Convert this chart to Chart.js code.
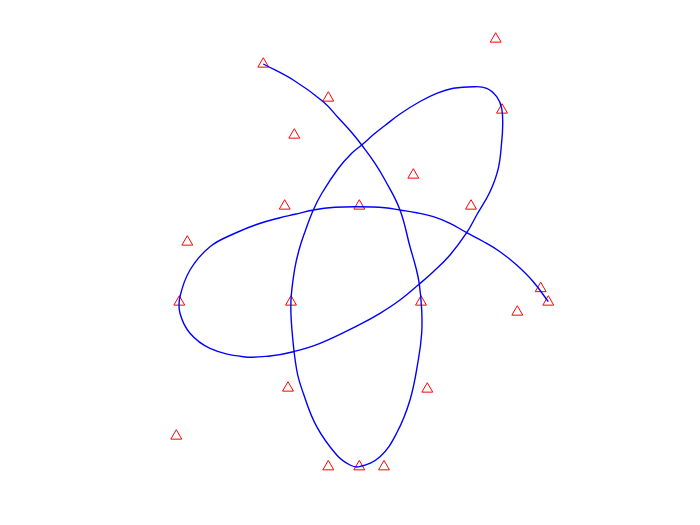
<!DOCTYPE html>
<html>
<head>
<meta charset="utf-8">
<script src="https://cdn.jsdelivr.net/npm/chart.js@4/dist/chart.umd.min.js"></script>
<style>
html,body{margin:0;padding:0;background:#fff;}
#wrap{width:700px;height:525px;position:relative;}
</style>
</head>
<body>
<div id="wrap"><canvas id="c"></canvas></div>
<script>
// Red triangle markers (data units)
const markerX = [-9.57,-3.07,-6.47,-7.43,0.03,13.67,14.30,5.43,11.20,-17.17,-17.97,-6.80,6.20,18.17,18.93,15.83,-7.10,6.83,-18.27,-3.07,0.03,2.50];
const markerY = [23.80,20.40,16.70,9.60,9.60,26.30,19.20,12.70,9.60,6.00,0,0,0,1.35,0,-1.00,-8.60,-8.70,-13.40,-16.47,-16.47,-16.47];

// Blue curve, points (data units)
const curveX = [-9.57,-6.57,-3.57,-2.07,-0.73,0.27,1.60,2.60,4.10,5.10,5.70,6.03,6.27,6.27,5.93,5.10,3.77,2.10,0.03,-0.90,-2.23,-4.23,-5.57,-6.23,-6.73,-6.80,-6.45,-6.00,-5.40,-4.57,-3.70,-2.07,-0.73,0.27,1.60,2.60,4.10,6.10,7.77,9.43,11.43,12.77,13.77,14.27,14.37,14.27,13.93,13.10,11.77,10.77,9.10,7.43,6.03,4.10,2.10,0.10,-3.90,-6.57,-8.90,-11.57,-14.90,-16.90,-17.90,-17.90,-16.90,-14.90,-12.23,-10.10,-7.90,-6.40,-4.57,-2.40,-0.07,2.60,4.10,5.77,7.43,9.10,10.77,12.43,14.10,15.77,17.43,18.93];
const curveY = [23.80,22.20,20.03,18.42,16.95,15.70,13.87,12.20,9.20,5.53,3.40,1.80,-0.80,-3.10,-5.80,-9.80,-13.10,-15.47,-16.47,-16.30,-15.30,-12.47,-9.13,-6.80,-2.47,0.20,3.20,5.20,7.03,9.20,10.90,13.35,14.87,15.70,16.87,17.65,18.80,20.05,20.87,21.37,21.53,21.37,20.53,19.37,17.70,16.03,13.37,11.03,8.70,6.93,4.70,3.03,1.80,0.20,-1.13,-2.23,-4.13,-4.97,-5.40,-5.47,-4.63,-3.13,-1.13,0.53,3.20,5.53,6.95,7.80,8.43,8.77,9.20,9.47,9.53,9.43,9.20,8.93,8.53,7.87,6.93,6.05,5.03,3.70,2.03,0.03];

const xRange = [-35.9, 34.1];
const yRange = [-22.3, 30.2];

const markers = markerX.map((x,i)=>({x:x,y:markerY[i]}));
const curve = curveX.map((x,i)=>({x:x,y:curveY[i]}));

new Chart(document.getElementById('c'), {
  type: 'scatter',
  data: {
    datasets: [
      {
        data: curve,
        showLine: true,
        borderColor: '#0000ff',
        borderWidth: 1.4,
        pointRadius: 0,
        tension: 0.4,
        fill: false,
        clip: false
      },
      {
        data: markers,
        showLine: false,
        pointStyle: 'triangle',
        pointRadius: 6.3,
        pointBorderWidth: 1,
        pointBorderColor: '#ff0000',
        pointBackgroundColor: 'rgba(0,0,0,0)',
        clip: false
      }
    ]
  },
  options: {
    responsive: true,
    maintainAspectRatio: false,
    animation: false,
    layout: { padding: 0, autoPadding: false },
    plugins: { legend: { display: false }, tooltip: { enabled: false } },
    scales: {
      x: { type: 'linear', min: xRange[0], max: xRange[1], display: false },
      y: { type: 'linear', min: yRange[0], max: yRange[1], display: false }
    }
  }
});
</script>
</body>
</html>
